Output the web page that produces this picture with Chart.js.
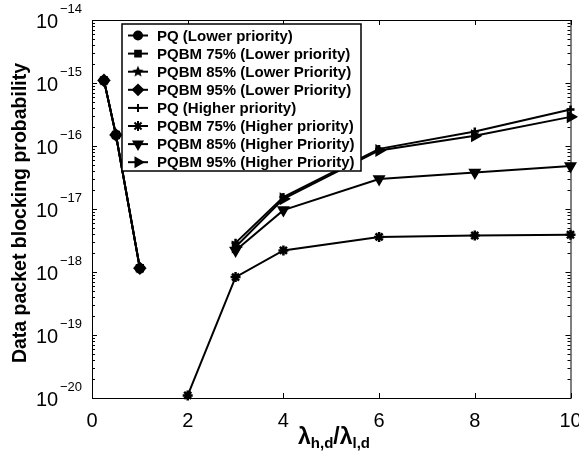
<!DOCTYPE html>
<html>
<head>
<meta charset="utf-8">
<script src="https://cdn.jsdelivr.net/npm/chart.js@4.4.0/dist/chart.umd.min.js"></script>
<style>
  html, body { margin: 0; padding: 0; background: #fff; }
</style>
</head>
<body>
<canvas id="myChart" width="579" height="455"></canvas>
<script>
// values
var xLow = [0.25, 0.5, 1];
var pqLow = [1.1e-15, 1.5e-16, 1.15e-18];
var pqbm75Low = [1.1e-15, 1.5e-16, 1.15e-18];
var pqbm85Low = [1.1e-15, 1.5e-16, 1.15e-18];
var pqbm95Low = [1.1e-15, 1.5e-16, 1.15e-18];

var xHigh = [2, 3, 4, 6, 8, 10];
var pqHigh = [null, 2.9e-18, 1.55e-17, 9e-17, 1.7e-16, 3.8e-16];
var pqbm75High = [1.1e-20, 8.3e-19, 2.2e-18, 3.6e-18, 3.8e-18, 3.9e-18];
var pqbm85High = [null, 2.2e-18, 9.6e-18, 3e-17, 3.8e-17, 4.8e-17];
var pqbm95High = [null, 2.5e-18, 1.45e-17, 8.5e-17, 1.45e-16, 2.9e-16];

var seriesNames = [
  'PQ (Lower priority)',
  'PQBM 75% (Lower priority)',
  'PQBM 85% (Lower Priority)',
  'PQBM 95% (Lower Priority)',
  'PQ (Higher priority)',
  'PQBM 75% (Higher priority)',
  'PQBM 85% (Higher Priority)',
  'PQBM 95% (Higher Priority)'
];
var xTicks = [0, 2, 4, 6, 8, 10];
var yExponents = [-20, -19, -18, -17, -16, -15, -14];

// filled pentagram marker (matlab 'p')
function makeStar(r) {
  var c = document.createElement('canvas');
  c.width = r * 2 + 2; c.height = r * 2 + 2;
  var g = c.getContext('2d');
  g.fillStyle = '#000';
  g.beginPath();
  for (var i = 0; i < 10; i++) {
    var rad = i % 2 === 0 ? r : r * 0.45;
    var a = -Math.PI / 2 + i * Math.PI / 5;
    var px = c.width / 2 + rad * Math.cos(a), py = c.height / 2 + rad * Math.sin(a);
    if (i === 0) g.moveTo(px, py); else g.lineTo(px, py);
  }
  g.closePath();
  g.fill();
  return c;
}
var pentagram = makeStar(6);

function pts(xs, ys) {
  var out = [];
  for (var i = 0; i < xs.length; i++) out.push({x: xs[i], y: ys[i]});
  return out;
}

var markers = [
  {style: 'circle', radius: 4, rot: 0},
  {style: 'rect', radius: 4, rot: 0},
  {style: pentagram, radius: 6, rot: 0},
  {style: 'rectRot', radius: 5, rot: 0},
  {style: 'cross', radius: 4, rot: 0},
  {style: 'star', radius: 5, rot: 0},
  {style: 'triangle', radius: 5, rot: 180},
  {style: 'triangle', radius: 5, rot: 90}
];
var seriesData = [
  pts(xLow, pqLow), pts(xLow, pqbm75Low), pts(xLow, pqbm85Low), pts(xLow, pqbm95Low),
  pts(xHigh, pqHigh), pts(xHigh, pqbm75High), pts(xHigh, pqbm85High), pts(xHigh, pqbm95High)
];

var datasets = seriesNames.map(function (name, i) {
  return {
    label: name,
    data: seriesData[i],
    borderColor: '#000',
    backgroundColor: '#000',
    borderWidth: 2,
    pointStyle: markers[i].style,
    pointRadius: markers[i].radius,
    pointRotation: markers[i].rot,
    pointBorderWidth: 2.5,
    pointBackgroundColor: '#000',
    pointBorderColor: '#000',
    tension: 0,
    clip: false
  };
});

var framePlugin = {
  id: 'frame',
  afterDraw: function (chart) {
    var ctx = chart.ctx;
    var a = chart.chartArea;
    var xs = chart.scales.x, ys = chart.scales.y;
    ctx.save();
    ctx.strokeStyle = '#000';
    ctx.fillStyle = '#000';
    ctx.lineWidth = 1;

    // box
    ctx.strokeRect(a.left + 0.5, a.top + 0.5, a.right - a.left, a.bottom - a.top);

    // x ticks inside, bottom and top
    xTicks.forEach(function (v) {
      var px = Math.round(xs.getPixelForValue(v)) + 0.5;
      ctx.beginPath();
      ctx.moveTo(px, a.bottom); ctx.lineTo(px, a.bottom - 5);
      ctx.moveTo(px, a.top); ctx.lineTo(px, a.top + 5);
      ctx.stroke();
    });

    // y ticks, major and minor, both sides
    yExponents.forEach(function (e) {
      for (var k = 1; k <= 9; k++) {
        if (e === -14 && k > 1) break;
        var py = Math.round(ys.getPixelForValue(k * Math.pow(10, e))) + 0.5;
        var len = k === 1 ? 5 : 3;
        ctx.beginPath();
        ctx.moveTo(a.left, py); ctx.lineTo(a.left + len, py);
        ctx.moveTo(a.right, py); ctx.lineTo(a.right - len, py);
        ctx.stroke();
      }
    });

    // x tick labels
    ctx.font = '20px "Liberation Sans", Arial, sans-serif';
    ctx.textAlign = 'center';
    ctx.textBaseline = 'middle';
    xTicks.forEach(function (v) {
      ctx.fillText(String(v), xs.getPixelForValue(v), a.bottom + 23);
    });

    // y tick labels 10^e
    yExponents.forEach(function (e) {
      var py = ys.getPixelForValue(Math.pow(10, e));
      ctx.textAlign = 'left';
      ctx.textBaseline = 'alphabetic';
      ctx.font = '20px "Liberation Sans", Arial, sans-serif';
      ctx.fillText('10', 36, py + 8);
      ctx.font = '13px "Liberation Sans", Arial, sans-serif';
      ctx.fillText('\u2212' + Math.abs(e), 60, py - 7);
    });

    // y title
    ctx.save();
    ctx.translate(21, 213);
    ctx.rotate(-Math.PI / 2);
    ctx.font = 'bold 19.5px "Liberation Sans", Arial, sans-serif';
    ctx.textAlign = 'center';
    ctx.textBaseline = 'middle';
    ctx.fillText('Data packet blocking probability', 0, 0);
    ctx.restore();

    // x title: lambda_h,d / lambda_l,d
    var parts = [
      {t: '\u03bb', f: 'bold 23px "Liberation Sans", Arial, sans-serif', dy: 0},
      {t: 'h,d', f: 'bold 15px "Liberation Sans", Arial, sans-serif', dy: 4},
      {t: '/\u03bb', f: 'bold 23px "Liberation Sans", Arial, sans-serif', dy: 0},
      {t: 'l,d', f: 'bold 15px "Liberation Sans", Arial, sans-serif', dy: 4}
    ];
    var total = 0;
    parts.forEach(function (p) { ctx.font = p.f; p.w = ctx.measureText(p.t).width; total += p.w; });
    var cx = 334 - total / 2;
    ctx.textAlign = 'left';
    ctx.textBaseline = 'alphabetic';
    parts.forEach(function (p) {
      ctx.font = p.f;
      ctx.fillText(p.t, cx, 444 + p.dy);
      cx += p.w;
    });

    // legend box
    var lx = 122, ly = 24, lw = 239, lh = 147;
    ctx.fillStyle = '#fff';
    ctx.fillRect(lx, ly, lw, lh);
    ctx.strokeStyle = '#000';
    ctx.lineWidth = 1.5;
    ctx.strokeRect(lx, ly, lw, lh);
    ctx.font = 'bold 15px "Liberation Sans", Arial, sans-serif';
    ctx.textBaseline = 'middle';
    ctx.textAlign = 'left';
    chart.data.datasets.forEach(function (ds, i) {
      var ry = 35.5 + i * 18.1;
      ctx.strokeStyle = '#000';
      ctx.fillStyle = '#000';
      ctx.lineWidth = 2;
      ctx.beginPath();
      ctx.moveTo(128, ry); ctx.lineTo(148, ry);
      ctx.stroke();
      if (Chart.helpers && Chart.helpers.drawPoint) {
        Chart.helpers.drawPoint(ctx, {
          pointStyle: ds.pointStyle,
          rotation: ds.pointRotation,
          radius: ds.pointRadius,
          borderWidth: 2.5
        }, 138, ry);
      }
      ctx.fillStyle = '#000';
      ctx.fillText(ds.label, 157, ry + 1);
    });
    ctx.restore();
  }
};

var myChart = new Chart('myChart', {
  type: 'line',
  data: { datasets: datasets },
  options: {
    responsive: false,
    animation: false,
    layout: { padding: { left: 0, top: 20, right: 7, bottom: 0 } },
    plugins: {
      legend: { display: false },
      tooltip: { enabled: false }
    },
    scales: {
      x: {
        type: 'linear',
        min: 0,
        max: 10,
        grid: { display: false },
        border: { display: false },
        ticks: { display: false },
        afterFit: function (s) { s.height = 57; }
      },
      y: {
        type: 'logarithmic',
        min: 1e-20,
        max: 1e-14,
        grid: { display: false },
        border: { display: false },
        ticks: { display: false },
        afterFit: function (s) { s.width = 92; }
      }
    }
  },
  plugins: [framePlugin]
});
</script>
</body>
</html>
